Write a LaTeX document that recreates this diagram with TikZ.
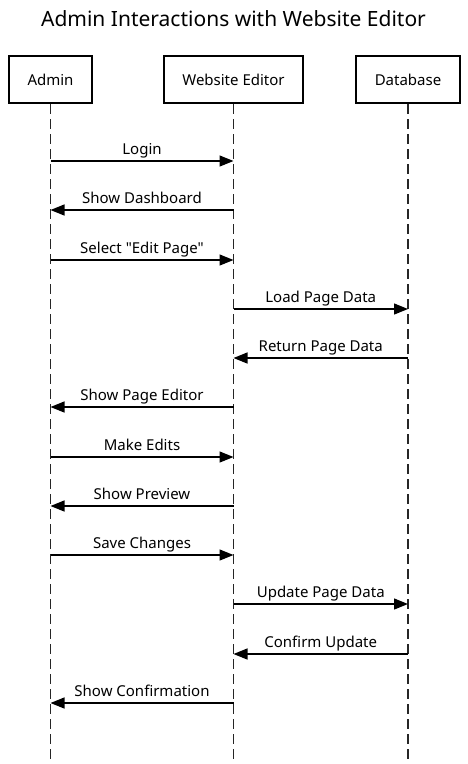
\documentclass[tikz,border=0pt]{standalone}
\usepackage{fontspec}
\setmainfont{Noto Sans}[Ligatures=TeXOff]
\usetikzlibrary{arrows.meta,positioning,calc}

\tikzset{
  actor/.style={draw, line width=2.5pt, minimum height=47pt, inner sep=0pt, font=\fontsize{15}{18}\selectfont},
  life/.style={line width=1.6pt, dash pattern=on 10pt off 5pt, draw=black!85},
  msg/.style={line width=1.3pt, -{Triangle[length=14pt,width=11pt]}},
  lbl/.style={anchor=base, yshift=7pt, inner sep=0pt, font=\fontsize{15}{18}\selectfont}
}

\begin{document}
\begin{tikzpicture}[x=1pt, y=-1pt]
        \useasboundingbox (0,0) rectangle (467,764);

        \node (title) at (233.5,19) {\fontsize{21}{25}\selectfont Admin Interactions with Website Editor};

        \node[actor, minimum width=83pt] (admin) at (50.5,79.5) {Admin};
        \node[actor, minimum width=139pt] (editor) at (233.5,79.5) {Website Editor};
        \node[actor, minimum width=104pt] (db) at (408,79.5) {Database};

        % lifelines
        \begin{scope}[life]
        \draw (admin.south) -- (admin.south |- 0,764);
        \draw (editor.south) -- (editor.south |- 0,764);
        \draw (db.south) -- (db.south |- 0,764);
        \end{scope}

        % messages
        \draw[msg] (admin |- 0,161) -- (editor |- 0,161) node[lbl, midway] {Login};
        \draw[msg] (editor |- 0,210) -- (admin |- 0,210) node[lbl, midway] {Show Dashboard};
        \draw[msg] (admin |- 0,260) -- (editor |- 0,260) node[lbl, midway] {Select "Edit Page"};
        \draw[msg] (editor |- 0,309) -- (db |- 0,309) node[lbl, midway] {Load Page Data};
        \draw[msg] (db |- 0,358) -- (editor |- 0,358) node[lbl, midway] {Return Page Data};
        \draw[msg] (editor |- 0,407) -- (admin |- 0,407) node[lbl, midway] {Show Page Editor};
        \draw[msg] (admin |- 0,457) -- (editor |- 0,457) node[lbl, midway] {Make Edits};
        \draw[msg] (editor |- 0,506) -- (admin |- 0,506) node[lbl, midway] {Show Preview};
        \draw[msg] (admin |- 0,555) -- (editor |- 0,555) node[lbl, midway] {Save Changes};
        \draw[msg] (editor |- 0,604) -- (db |- 0,604) node[lbl, midway] {Update Page Data};
        \draw[msg] (db |- 0,654) -- (editor |- 0,654) node[lbl, midway] {Confirm Update};
        \draw[msg] (editor |- 0,703) -- (admin |- 0,703) node[lbl, midway] {Show Confirmation};

\end{tikzpicture}
\end{document}
